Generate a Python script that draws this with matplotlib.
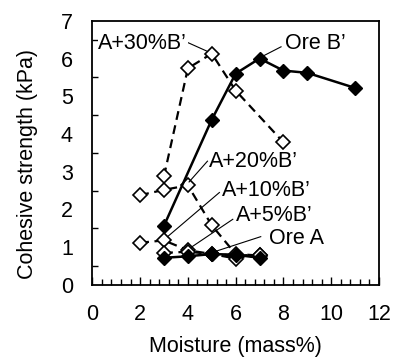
import matplotlib
matplotlib.use("Agg")
import matplotlib.pyplot as plt
from matplotlib.ticker import MultipleLocator

plt.rcParams['font.family'] = ['Liberation Sans', 'DejaVu Sans']

ore_a_x = [3, 4, 5, 6, 7]
ore_a_y = [0.72, 0.76, 0.82, 0.80, 0.72]
a5_x = [3, 4, 5, 6, 7]
a5_y = [0.85, 0.88, 0.82, 0.70, 0.80]
a10_x = [2, 3, 4, 5, 6, 7]
a10_y = [1.12, 1.18, 0.92, 0.82, 0.78, 0.80]
a20_x = [2, 3, 4, 5, 6, 7]
a20_y = [2.38, 2.52, 2.64, 1.58, 0.82, 0.78]
a30_x = [3, 4, 5, 6, 8]
a30_y = [2.88, 5.74, 6.13, 5.15, 3.78]
oreb_x = [3, 5, 6, 7, 8, 9, 11]
oreb_y = [1.57, 4.38, 5.60, 6.00, 5.68, 5.62, 5.22]

labels = ["A+30%B\u2019", "Ore B\u2019", "A+20%B\u2019", "A+10%B\u2019", "A+5%B\u2019", "Ore A"]

fig = plt.figure(figsize=(3.95, 3.58), dpi=100)
ax = fig.add_axes([0.2337, 0.204, 0.7258, 0.738])

dash = dict(color='black', lw=1.6, ls=(0, (4, 2.5)), marker='D', ms=7.3,
            mfc='white', mec='black', mew=1.2)
solid = dict(color='black', lw=1.8, ls='-', marker='D', ms=7.3,
             mfc='black', mec='black', mew=1.0)

ax.plot(a30_x, a30_y, **dash, zorder=3)
ax.plot(a20_x, a20_y, **dash, zorder=3)
ax.plot(a10_x, a10_y, **dash, zorder=3)
ax.plot(a5_x, a5_y, **dash, zorder=3)
ax.plot(oreb_x, oreb_y, **solid, zorder=4)
ax.plot(ore_a_x, ore_a_y, **solid, zorder=4)

# annotations: (text position), (leader start), (leader end)
ann = [
    (labels[0], (0.25, 6.4), (3.9, 6.45), (4.78, 6.2)),
    (labels[1], (8.05, 6.4), (7.9, 6.31), (7.1, 6.05)),
    (labels[2], (4.9, 3.28), (4.82, 3.28), (4.05, 2.73)),
    (labels[3], (5.42, 2.49), (5.32, 2.45), (3.15, 1.28)),
    (labels[4], (6.0, 1.83), (5.88, 1.74), (4.12, 0.99)),
    (labels[5], (7.38, 1.23), (7.05, 1.28), (5.01, 0.86)),
]
for txt, tp, p0, p1 in ann:
    ax.text(tp[0], tp[1], txt, fontsize=15.5, ha='left', va='center', zorder=6,
            bbox=dict(facecolor='white', edgecolor='none', pad=0.3))
    ax.plot([p0[0], p1[0]], [p0[1], p1[1]], color='black', lw=0.8, zorder=5)

ax.set_xlim(0, 12)
ax.set_ylim(0, 7)
ax.xaxis.set_major_locator(MultipleLocator(2))
ax.xaxis.set_minor_locator(MultipleLocator(0.4))
ax.yaxis.set_major_locator(MultipleLocator(1))
ax.yaxis.set_minor_locator(MultipleLocator(0.5))
ax.tick_params(axis='x', which='major', direction='in', length=6, width=1,
               labelsize=15.5, pad=14)
ax.tick_params(axis='x', which='minor', direction='in', length=4, width=1)
ax.tick_params(axis='y', which='major', length=0, labelsize=15.5, pad=14)
ax.tick_params(axis='y', which='minor', direction='in', length=4, width=1)
for s in ax.spines.values():
    s.set_linewidth(1.3)

ax.set_xlabel("Moisture (mass%)", fontsize=15.5, va='baseline')
ax.set_ylabel("Cohesive strength (kPa)", fontsize=15.5, va='center')
ax.xaxis.set_label_coords(0.5, -0.253)
ax.yaxis.set_label_coords(-0.226, 0.458)

fig.savefig("out.png", dpi=100)
